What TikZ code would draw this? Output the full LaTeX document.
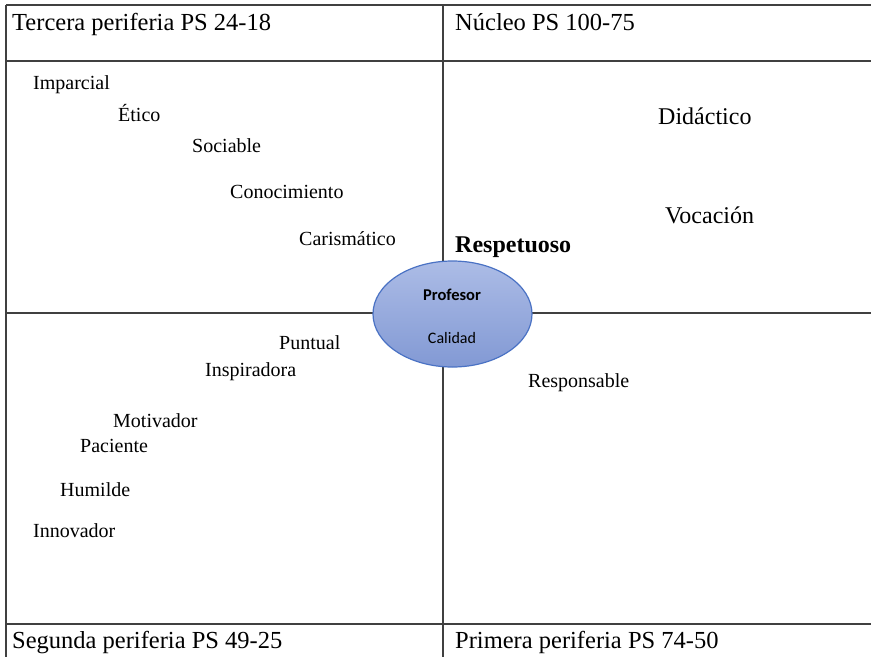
\documentclass[tikz,border=0pt]{standalone}
\usepackage{fontspec}
\setmainfont{Liberation Serif}
\newfontfamily\calib{Carlito}
\usetikzlibrary{shapes.geometric}
\definecolor{gridc}{HTML}{404040}
\definecolor{elltop}{HTML}{ACBCE6}
\definecolor{ellbot}{HTML}{8299D4}
\definecolor{ellline}{HTML}{4A72C4}
\tikzset{
  gridline/.style={draw=gridc, line width=1.5pt},
  word/.style={anchor=base west, inner sep=0pt, font=\fontsize{20}{24}\selectfont},
  bigword/.style={anchor=base west, inner sep=0pt, font=\fontsize{24}{28}\selectfont},
  header/.style={anchor=base west, inner sep=0pt, font=\fontsize{24.5}{28}\selectfont},
  centre/.style={ellipse, minimum width=159pt, minimum height=106pt, inner sep=0pt,
    top color=elltop, bottom color=ellbot, draw=ellline, line width=1.2pt}
}
\begin{document}
\begin{tikzpicture}[x=1pt,y=-1pt]
\useasboundingbox (0,0) rectangle (871,657);
\fill[white] (0,0) rectangle (871,657);
% grid
\coordinate (tl) at (6,5);
\coordinate (tr) at (871,5);
\coordinate (bl) at (6,657);
\coordinate (vt) at (443,5);
\coordinate (vb) at (443,657);
\coordinate (hl) at (6,61);
\coordinate (hr) at (871,61);
\coordinate (ml) at (6,313);
\coordinate (mr) at (871,313);
\coordinate (fl) at (6,624);
\coordinate (fr) at (871,624);
\draw[gridline] (tl) -- (tr);
\draw[gridline] (tl) -- (bl);
\draw[gridline] (vt) -- (vb);
\draw[gridline] (hl) -- (hr);
\draw[gridline] (ml) -- (mr);
\draw[gridline] (fl) -- (fr);
% headers
\node[header] (h1) at (12,30) {Tercera periferia PS 24-18};
\node[header] (h2) at (455,30) {Núcleo PS 100-75};
\node[header] (h3) at (12,648) {Segunda periferia PS 49-25};
\node[header] (h4) at (455,648) {Primera periferia PS 74-50};
% third periphery
\node[word] (w1) at (33,89) {Imparcial};
\node[word] (w2) at (118,121) {Ético};
\node[word] (w3) at (192,152) {Sociable};
\node[word] (w4) at (230,198) {Conocimiento};
\node[word] (w5) at (299,245) {Carismático};
% nucleus
\node[bigword, font=\fontsize{24}{28}\selectfont\bfseries] (n1) at (455,252) {Respetuoso};
\node[bigword] (n2) at (658,124) {Didáctico};
\node[bigword] (n3) at (665,223) {Vocación};
% second periphery
\node[word] (s1) at (279,349) {Puntual};
\node[word] (s2) at (205,376) {Inspiradora};
\node[word] (s3) at (113,427) {Motivador};
\node[word] (s4) at (80,452) {Paciente};
\node[word] (s5) at (60,496) {Humilde};
\node[word] (s6) at (33,537) {Innovador};
% first periphery
\node[word] (p1) at (528,387) {Responsable};
% centre
\node[centre] (c) at (452.5,314) {};
\node[font=\calib\fontsize{16.5}{19}\selectfont\bfseries, inner sep=0pt] (cp) at (452,295) {Profesor};
\node[font=\calib\fontsize{16}{19}\selectfont, inner sep=0pt] (cc) at (452,338) {Calidad};
\end{tikzpicture}
\end{document}
